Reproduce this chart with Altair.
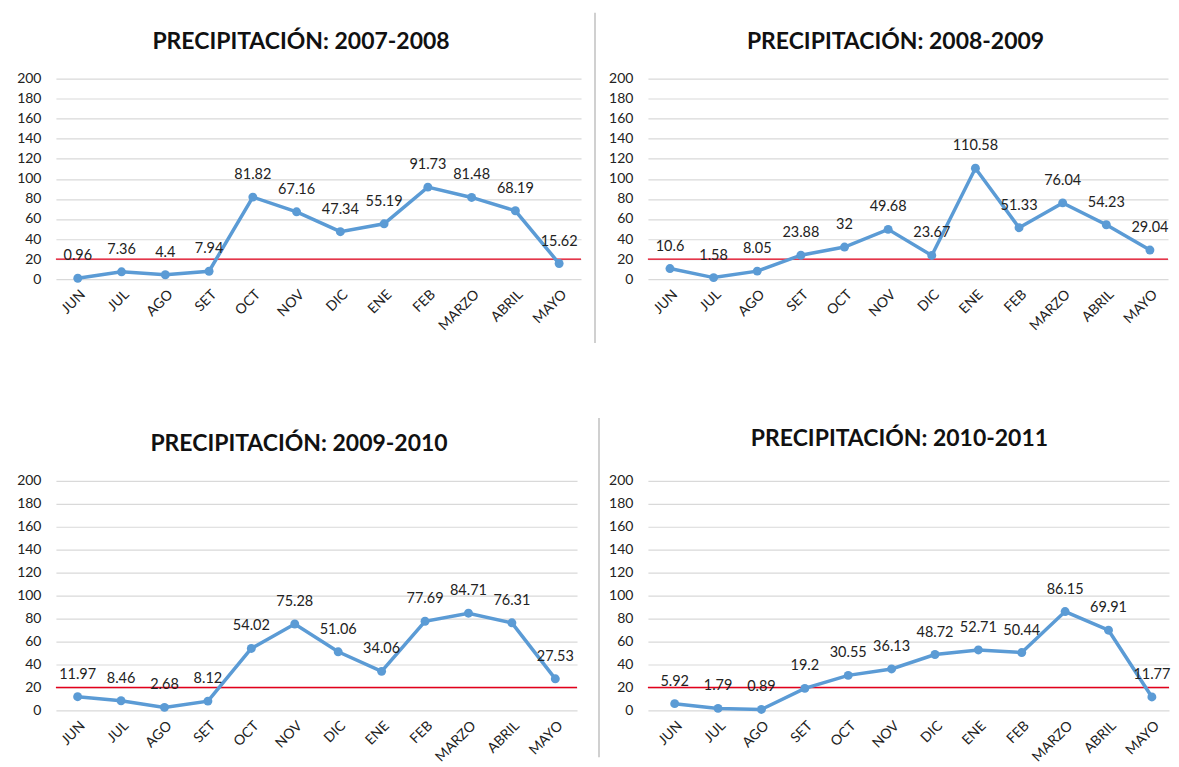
import altair as alt
import pandas as pd

months = ["JUN", "JUL", "AGO", "SET", "OCT", "NOV", "DIC", "ENE", "FEB", "MARZO", "ABRIL", "MAYO"]

titles = ["PRECIPITACIÓN: 2007-2008", "PRECIPITACIÓN: 2008-2009",
          "PRECIPITACIÓN: 2009-2010", "PRECIPITACIÓN: 2010-2011"]

p_2007_2008 = [0.96, 7.36, 4.4, 7.94, 81.82, 67.16, 47.34, 55.19, 91.73, 81.48, 68.19, 15.62]
p_2008_2009 = [10.6, 1.58, 8.05, 23.88, 32, 49.68, 23.67, 110.58, 51.33, 76.04, 54.23, 29.04]
p_2009_2010 = [11.97, 8.46, 2.68, 8.12, 54.02, 75.28, 51.06, 34.06, 77.69, 84.71, 76.31, 27.53]
p_2010_2011 = [5.92, 1.79, 0.89, 19.2, 30.55, 36.13, 48.72, 52.71, 50.44, 86.15, 69.91, 11.77]

threshold = [20]
y_ticks = [0, 20, 40, 60, 80, 100, 120, 140, 160, 180, 200]

FONT = "Lato"
BLUE = "#5B9BD5"


def panel(title, values, width, height, pad, align, title_pos, sep=None):
    df = pd.DataFrame({"mes": months, "valor": values,
                       "etiqueta": [f"{v:g}" for v in values]})
    x = alt.X("mes:N", sort=months,
              scale=alt.Scale(type="point", padding=pad, align=align),
              axis=alt.Axis(title=None, labelAngle=-45, domain=False, ticks=False,
                            labelPadding=8, labelFontSize=14, labelFont=FONT,
                            labelColor="#222222", grid=False, labelOverlap=False))
    y_scale = alt.Scale(domain=[0, 200], nice=False)
    y_axis = alt.Axis(title=None, values=y_ticks, domain=False, ticks=False,
                      labelPadding=15, labelFontSize=14, labelFont=FONT,
                      labelOverlap=False, labelColor="#222222",
                      gridColor="#D9D9D9", gridWidth=1.2)
    y = alt.Y("valor:Q", scale=y_scale, axis=y_axis)
    base = alt.Chart(df)
    red = alt.Chart(pd.DataFrame({"valor": threshold})).mark_rule(
        color="#E3001B", strokeWidth=1.3).encode(y=y)
    line = base.mark_line(color=BLUE, strokeWidth=3.5).encode(x=x, y=y)
    pts = base.mark_circle(color=BLUE, size=80, opacity=1).encode(x=x, y=y)
    txt = base.mark_text(dy=-22, baseline="middle", fontSize=14.5, font=FONT,
                         color="#222222").encode(x=x, y=y, text="etiqueta:N")
    tx, ty = title_pos
    ttl = alt.Chart(pd.DataFrame({"t": [title]})).mark_text(
        font=FONT, fontSize=23, fontWeight="bold", color="#111111",
        align="center", baseline="middle").encode(
        text="t:N", x=alt.value(tx), y=alt.value(ty))
    layers = [red, line, pts, txt, ttl]
    if sep is not None:
        sx, sy1, sy2 = sep
        rule = alt.Chart(pd.DataFrame({"u": [0]})).mark_rule(
            color="#D0D0D0", strokeWidth=2).encode(
            x=alt.value(sx), y=alt.value(sy1), y2=alt.value(sy2))
        layers.append(rule)
    return alt.layer(*layers).properties(width=width, height=height)


a = panel(titles[0], p_2007_2008, 526, 201, 0.5, 0.5, (245.5, -37))
b = panel(titles[1], p_2008_2009, 521, 201, 0.46, 0.55, (248, -37), sep=(-53, -66, 265))
c = panel(titles[2], p_2009_2010, 522, 230, 0.5, 0.5, (243.5, -37))
d = panel(titles[3], p_2010_2011, 522, 230, 0.506, 0.61, (252, -42), sep=(-49, -63, 277))

chart = alt.concat(a, b, c, d, columns=2).properties(
    bounds="flush", align="each",
    spacing=alt.RowColnumber(row=202, column=67),
    padding={"left": 8, "top": 3, "right": 0, "bottom": 0},
).configure(background="white").configure_view(strokeWidth=0)

chart.save("out.html", embed_options={"renderer": "svg", "actions": False})
